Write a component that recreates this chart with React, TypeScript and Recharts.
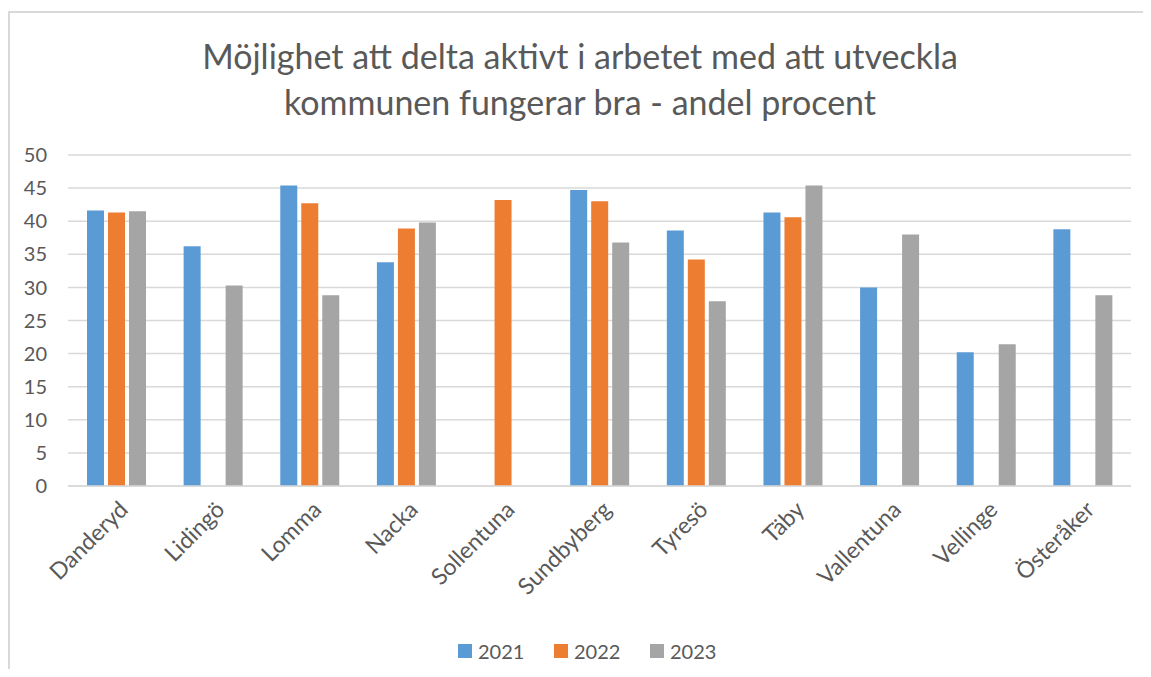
import { BarChart, Bar, XAxis, YAxis, CartesianGrid } from "recharts";

const categories = [
  "Danderyd",
  "Lidingö",
  "Lomma",
  "Nacka",
  "Sollentuna",
  "Sundbyberg",
  "Tyresö",
  "Täby",
  "Vallentuna",
  "Vellinge",
  "Österåker",
];

const values2021 = [41.6, 36.2, 45.4, 33.8, null, 44.7, 38.6, 41.3, 30.0, 20.2, 38.8];
const values2022 = [41.3, null, 42.7, 38.9, 43.2, 43.0, 34.2, 40.6, null, null, null];
const values2023 = [41.5, 30.3, 28.8, 39.8, null, 36.8, 27.9, 45.4, 38.0, 21.4, 28.8];

const yTicks = [0, 5, 10, 15, 20, 25, 30, 35, 40, 45, 50];

const series = [
  { key: "y2021", name: "2021", color: "#5B9BD5" },
  { key: "y2022", name: "2022", color: "#ED7D31" },
  { key: "y2023", name: "2023", color: "#A5A5A5" },
];

const titleLines = [
  "Möjlighet att delta aktivt i arbetet med att utveckla",
  "kommunen fungerar bra - andel procent",
];

const data = categories.map((name, i) => ({
  name,
  y2021: values2021[i],
  y2022: values2022[i],
  y2023: values2023[i],
}));

const FONT = "Lato, 'Open Sans', sans-serif";
const TEXT = "#595959";

// rotated category label, right end sits near the bar group
function AngledTick(props: any) {
  const { x, y, payload } = props;
  return (
    <g transform={`translate(${x + 9},${y + 13})`}>
      <text
        transform="rotate(-45)"
        textAnchor="end"
        dominantBaseline="middle"
        fill={TEXT}
        fontSize={23}
        fontFamily={FONT}
      >
        {payload.value}
      </text>
    </g>
  );
}

export default function App() {
  return (
    <div
      style={{
        position: "relative",
        marginTop: 3,
        width: 1141,
        height: 656,
        borderTop: "2px solid #d9d9d9",
        borderLeft: "2px solid #d9d9d9",
        fontFamily: FONT,
        background: "#fff",
      }}
    >
      {/* titel */}
      <div
        style={{
          position: "absolute",
          left: 0,
          top: 20,
          width: 1141,
          textAlign: "center",
          color: TEXT,
          fontSize: 34,
          lineHeight: "46px",
        }}
      >
        {titleLines.map((t) => (
          <div key={t} style={{ marginLeft: -1 }}>
            {t}
          </div>
        ))}
      </div>

      <BarChart
        width={1141}
        height={656}
        data={data}
        margin={{ top: 142, right: 20, bottom: 33, left: 0 }}
        barSize={17}
        barGap={4}
      >
        <CartesianGrid vertical={false} stroke="#d9d9d9" strokeWidth={1.5} />
        <XAxis
          dataKey="name"
          height={150}
          interval={0}
          tickLine={false}
          axisLine={{ stroke: "#d9d9d9", strokeWidth: 1.5 }}
          tick={<AngledTick />}
        />
        <YAxis
          width={58}
          domain={[0, 50]}
          ticks={yTicks}
          axisLine={false}
          tickLine={false}
          tickMargin={15}
          tick={{ fill: TEXT, fontSize: 20, fontFamily: FONT }}
        />
        {series.map((s) => (
          <Bar
            key={s.key}
            dataKey={s.key}
            name={s.name}
            fill={s.color}
            isAnimationActive={false}
          />
        ))}
      </BarChart>

      {/* förklaring */}
      <div
        style={{
          position: "absolute",
          left: 448,
          top: 626,
          display: "flex",
          color: TEXT,
          fontSize: 20,
        }}
      >
        {series.map((s) => (
          <div
            key={s.key}
            style={{ width: 96, display: "flex", alignItems: "center" }}
          >
            <span
              style={{
                width: 14,
                height: 14,
                background: s.color,
                display: "inline-block",
                marginRight: 6,
              }}
            />
            {s.name}
          </div>
        ))}
      </div>
    </div>
  );
}
